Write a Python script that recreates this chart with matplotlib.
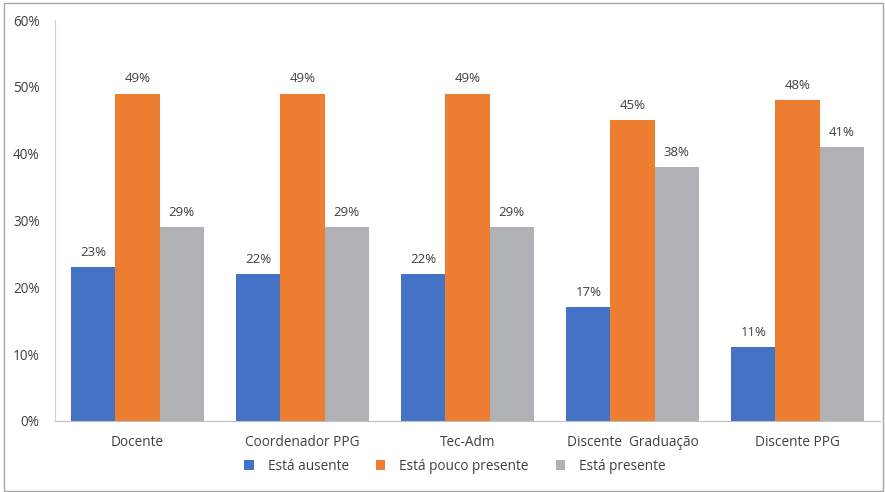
import numpy as np
import matplotlib.pyplot as plt
from matplotlib.patches import Rectangle

# Data
categories = ["Docente", "Coordenador PPG", "Tec-Adm", "Discente  Graduação", "Discente PPG"]
series = ["Está ausente", "Está pouco presente", "Está presente"]
ausente = [23, 22, 22, 17, 11]
pouco = [49, 49, 49, 45, 48]
presente = [29, 29, 29, 38, 41]
colors = ["#4472C4", "#ED7D31", "#B0B1B4"]

plt.rcParams['font.family'] = ['Open Sans', 'DejaVu Sans']
txt = "#404040"

fig = plt.figure(figsize=(8.85, 4.92), dpi=100)
ax = fig.add_axes([55 / 885, 1 - 421 / 492, 825 / 885, 401 / 492])

x = np.arange(len(categories))
w = 0.267
for i, (vals, name) in enumerate(zip([ausente, pouco, presente], series)):
    bars = ax.bar(x + (i - 1) * w, vals, w, color=colors[i], label=name)
    for b, v in zip(bars, vals):
        ax.text(b.get_x() + b.get_width() / 2, v + 1.2, f"{v}%", ha="center",
                va="bottom", fontsize=9.5, color=txt)

ax.set_xlim(-0.5, len(categories) - 0.5)
ax.set_ylim(0, 60)
ax.set_yticks(range(0, 61, 10))
ax.set_yticklabels([f"{t}%" for t in range(0, 61, 10)])
ax.set_xticks(x)
ax.set_xticklabels(categories)
ax.tick_params(length=0, labelsize=9.8, colors=txt)
ax.tick_params(axis="x", pad=10)
ax.tick_params(axis="y", pad=11)
for s in ["top", "right"]:
    ax.spines[s].set_visible(False)
ax.spines["left"].set_color("#D0D0D0")
ax.spines["bottom"].set_color("#BFBFBF")

ax.legend(loc="center", bbox_to_anchor=(455 / 885, 1 - 466 / 492),
          bbox_transform=fig.transFigure, ncol=3, frameon=False,
          fontsize=9.8, handlelength=0.7, handleheight=0.7, columnspacing=2.0,
          handletextpad=1.0, labelcolor=txt)

fig.patches.append(Rectangle((4 / 885, 1 / 492), 879 / 885, 488 / 492,
                             transform=fig.transFigure, fill=False,
                             edgecolor="#A6A6A6", linewidth=1))

fig.savefig("out.png", dpi=100)
